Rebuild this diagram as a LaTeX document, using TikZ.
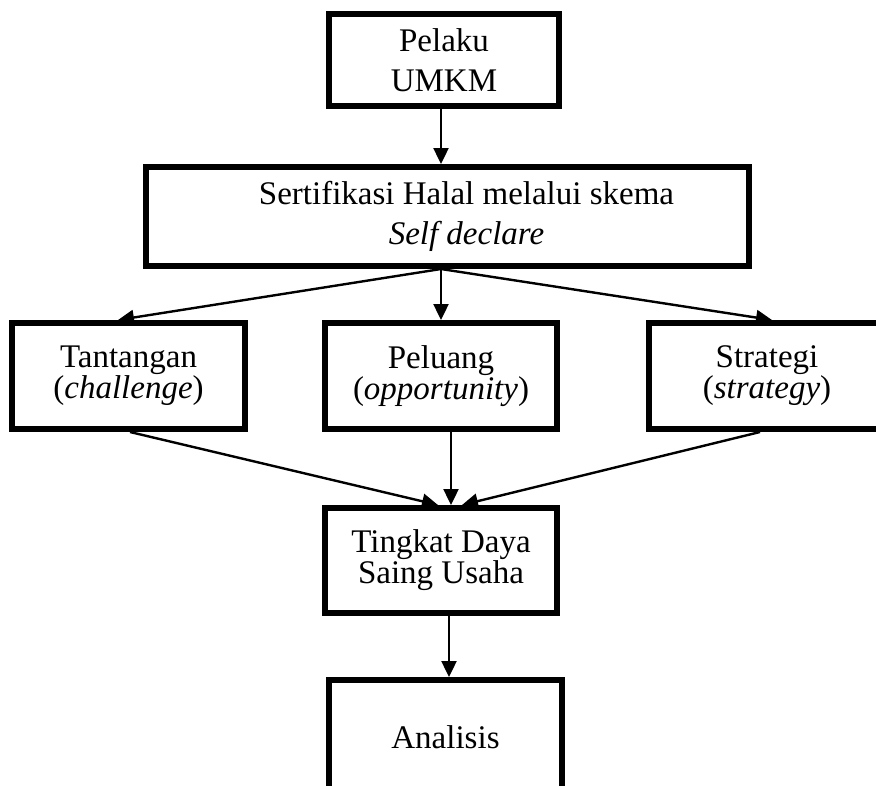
\documentclass[tikz,border=0pt]{standalone}
\usepackage{fontspec}
\setmainfont{Liberation Serif}
\usetikzlibrary{arrows.meta}
\begin{document}
\begin{tikzpicture}[x=1pt,y=-1pt,
  box/.style={draw=black,line width=6pt,rectangle,align=center,inner sep=0pt,
    font=\fontsize{33}{30}\selectfont},
  widebox/.style={box,font=\fontsize{33}{40}\selectfont},
  arr/.style={line width=2.4pt,-{Triangle[length=16pt,width=15pt]}}]
\useasboundingbox (0,0) rectangle (876,785);
\node[widebox,minimum width=230pt,minimum height=92pt] (b1) at (444,60) {Pelaku\\UMKM};
\node[widebox,minimum width=603pt,minimum height=99pt] (b2) at (447.5,216.5)
  {\hspace*{38pt}Sertifikasi Halal melalui skema\\\hspace*{38pt}\textit{Self declare}};
\node[box,minimum width=233pt,minimum height=106pt] (b3) at (128.5,376) {Tantangan\\(\textit{challenge})};
\node[box,minimum width=232pt,minimum height=106pt] (b4) at (441,376) {Peluang\\(\textit{opportunity})};
\node[box,minimum width=236pt,minimum height=106pt] (b5) at (767,376) {Strategi\\(\textit{strategy})};
\node[box,minimum width=232pt,minimum height=105pt] (b6) at (441,560.5) {Tingkat Daya\\Saing Usaha};
\node[box,minimum width=233pt,minimum height=115pt] (b7) at (445.5,737.5) {Analisis};
\draw[arr] ([xshift=-3pt]b1.south) -- ([xshift=-6.5pt]b2.north);
\draw[arr] ([xshift=-6.5pt]b2.south) -- ([xshift=-10.5pt]b3.north);
\draw[arr] ([xshift=-6.5pt]b2.south) -- (b4.north);
\draw[arr] ([xshift=-6.5pt]b2.south) -- ([xshift=5pt]b5.north);
\draw[arr] ([xshift=1.5pt]b3.south) -- ([xshift=-3pt]b6.north);
\draw[arr] ([xshift=10pt]b4.south) -- ([xshift=10pt]b6.north);
\draw[arr] ([xshift=-7pt]b5.south) -- ([xshift=21pt]b6.north);
\draw[arr] ([xshift=8pt]b6.south) -- ([xshift=3.5pt]b7.north);
\end{tikzpicture}
\end{document}
